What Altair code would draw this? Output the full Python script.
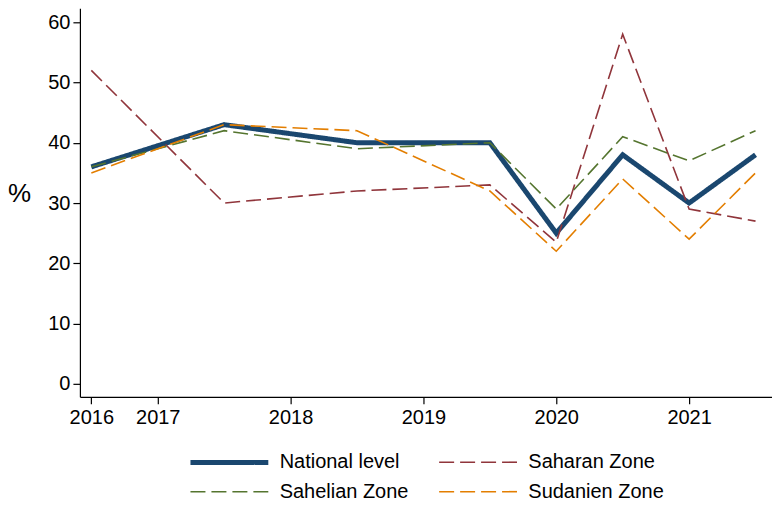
import altair as alt
import pandas as pd

periods = [2016.5, 2017.5, 2018.5, 2019.5, 2020.0, 2020.5, 2021.0, 2021.5]
series_names = ["National level", "Saharan Zone", "Sahelian Zone", "Sudanien Zone"]
national = [36, 43, 40, 40, 25, 38, 30, 38]
saharan = [52, 30, 32, 33, 23.5, 58, 29, 27]
sahelian = [36, 42, 39, 40, 29, 41, 37, 42]
sudanien = [35, 43, 42, 32, 22, 34, 24, 35]
x_ticks = [2016.5, 2017, 2018, 2019, 2020, 2021]
y_ticks = [0, 10, 20, 30, 40, 50, 60]
colors = ["#1a476f", "#90353b", "#55752f", "#e37e00"]

rows = []
for name, vals in zip(series_names, [national, saharan, sahelian, sudanien]):
    for i, (p, v) in enumerate(zip(periods, vals)):
        rows.append({"t": p, "value": v, "series": name, "idx": i})
df = pd.DataFrame(rows)

FONT = "Liberation Sans"

chart = alt.Chart(df).mark_line(strokeCap="butt", strokeJoin="miter").encode(
    x=alt.X("t:Q",
            scale=alt.Scale(domain=[2016.414, 2021.624], nice=False, zero=False),
            axis=alt.Axis(values=x_ticks, labelExpr="'' + floor(datum.value)",
                          title=None, grid=False, tickSize=7, labelPadding=4,
                          labelFontSize=20, labelFlush=False)),
    y=alt.Y("value:Q",
            scale=alt.Scale(domain=[-2.15, 62.3], nice=False, zero=False),
            axis=alt.Axis(values=y_ticks, title="%", titleAngle=0,
                          titleFontSize=26, titleFontWeight="normal",
                          titleX=-61, titleY=185, titleAlign="center",
                          titleBaseline="middle",
                          grid=False, tickSize=7, labelPadding=3,
                          labelFontSize=20)),
    color=alt.Color("series:N", sort=series_names,
                    scale=alt.Scale(domain=series_names, range=colors),
                    legend=alt.Legend(title=None, orient="none", legendX=108,
                                      legendY=444, columns=2, direction="horizontal",
                                      symbolType="M-1,0H9", symbolSize=243,
                                      labelFontSize=20, labelOffset=71,
                                      columnPadding=27, rowPadding=9,
                                      labelLimit=300)),
    strokeDash=alt.StrokeDash("series:N", sort=series_names,
                              scale=alt.Scale(domain=series_names,
                                              range=[[1, 0], [15, 6], [15, 6], [15, 6]])),
    strokeWidth=alt.StrokeWidth("series:N", sort=series_names,
                                scale=alt.Scale(type="ordinal", domain=series_names,
                                                range=[5, 1.6, 1.6, 1.6])),
    order="idx:Q",
).properties(
    width=693, height=389,
    autosize=alt.AutoSizeParams(type="none"),
    padding={"left": 72, "top": 0, "right": 0, "bottom": 103},
).configure_axis(
    domainColor="#000000", tickColor="#000000", labelColor="#000000",
    titleColor="#000000", labelFont=FONT, titleFont=FONT, domainWidth=1.2,
    tickWidth=1.2,
).configure_legend(
    labelFont=FONT, labelColor="#000000",
).configure_view(stroke=None)

chart.save("out.html", embed_options={"renderer": "svg", "actions": False})
